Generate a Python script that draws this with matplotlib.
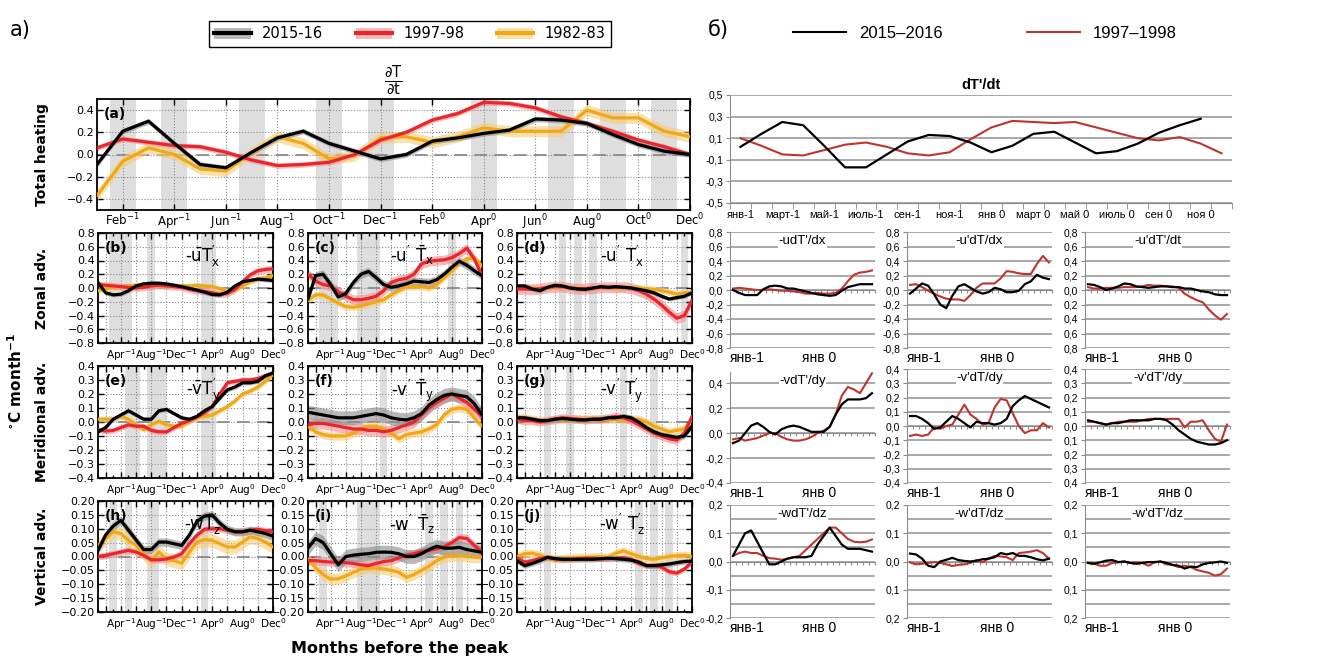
import numpy as np
import matplotlib.pyplot as plt
from matplotlib.lines import Line2D
from matplotlib.patches import Patch
from matplotlib.ticker import FuncFormatter
import matplotlib.transforms as mtransforms

# ---------------- data: left block, monthly anomalies (Jan-1 .. Dec0) ----------------
months = np.arange(24)

heat_1516 = [-0.09, 0.21, 0.30, 0.10, -0.09, -0.12, 0.02, 0.15, 0.21, 0.10, 0.03, -0.04,
             0.00, 0.12, 0.15, 0.19, 0.22, 0.32, 0.31, 0.28, 0.18, 0.09, 0.03, 0.00]
heat_9798 = [0.06, 0.14, 0.11, 0.08, 0.07, 0.02, -0.05, -0.10, -0.09, -0.07, 0.00, 0.13,
             0.20, 0.31, 0.37, 0.47, 0.46, 0.42, 0.34, 0.28, 0.21, 0.13, 0.07, 0.00]
heat_8283 = [-0.37, -0.06, 0.06, 0.00, -0.13, -0.15, 0.02, 0.16, 0.10, -0.04, -0.01, 0.15,
             0.16, 0.11, 0.16, 0.24, 0.21, 0.21, 0.21, 0.40, 0.33, 0.33, 0.21, 0.16]

b_1516 = [0.08, -0.07, -0.10, -0.09, -0.04, 0.03, 0.06, 0.07, 0.07, 0.06, 0.04, 0.02,
          -0.005, -0.03, -0.06, -0.095, -0.10, -0.06, 0.03, 0.09, 0.11, 0.13, 0.12, 0.11]
b_9798 = [0.05, 0.04, 0.03, 0.02, 0.01, 0.00, 0.01, 0.03, 0.04, 0.03, 0.02, 0.01,
          -0.02, -0.04, -0.05, -0.07, -0.09, -0.08, -0.02, 0.09, 0.19, 0.25, 0.27, 0.28]
b_8283 = [-0.04, -0.01, 0.01, 0.02, 0.03, 0.04, 0.05, 0.05, 0.04, 0.03, 0.03, 0.03,
          0.03, 0.04, 0.03, 0.02, -0.01, -0.05, -0.03, 0.03, 0.09, 0.13, 0.15, 0.18]

c_1516 = [-0.16, 0.18, 0.20, 0.05, -0.13, -0.08, 0.08, 0.20, 0.24, 0.15, 0.05, 0.01,
          0.03, 0.06, 0.10, 0.09, 0.08, 0.12, 0.20, 0.30, 0.39, 0.33, 0.25, 0.18]
c_9798 = [0.20, 0.10, 0.05, 0.03, -0.05, -0.12, -0.17, -0.17, -0.15, -0.12, -0.04, 0.08,
          0.12, 0.14, 0.20, 0.35, 0.39, 0.40, 0.41, 0.44, 0.50, 0.58, 0.42, 0.18]
c_8283 = [-0.18, -0.10, -0.10, -0.16, -0.22, -0.27, -0.28, -0.26, -0.23, -0.20, -0.17, -0.10,
          -0.04, 0.02, 0.02, 0.02, 0.00, 0.05, 0.15, 0.25, 0.36, 0.42, 0.44, 0.32]

d_1516 = [0.03, 0.03, -0.015, -0.04, 0.01, 0.04, 0.03, 0.00, -0.015, -0.02, 0.00, 0.02,
          0.01, 0.02, 0.01, 0.00, -0.02, -0.04, -0.07, -0.12, -0.16, -0.14, -0.12, -0.07]
d_9798 = [-0.015, -0.015, -0.02, -0.01, 0.01, 0.02, 0.02, 0.00, -0.01, -0.01, 0.00, 0.01,
          0.01, 0.01, 0.01, 0.00, -0.04, -0.09, -0.16, -0.25, -0.35, -0.44, -0.40, -0.18]
d_8283 = [0.02, 0.02, 0.00, -0.02, 0.00, 0.02, 0.02, 0.01, 0.00, -0.01, 0.00, 0.01,
          0.01, 0.00, 0.00, 0.00, 0.00, -0.01, -0.02, -0.04, -0.06, -0.09, -0.07, -0.06]

e_1516 = [-0.07, -0.04, 0.02, 0.05, 0.08, 0.05, 0.02, 0.02, 0.08, 0.09, 0.06, 0.03,
          0.02, 0.04, 0.08, 0.11, 0.17, 0.23, 0.25, 0.28, 0.28, 0.29, 0.33, 0.35]
e_9798 = [-0.055, -0.065, -0.06, -0.04, -0.02, -0.03, -0.03, -0.06, -0.07, -0.07, -0.04, -0.01,
          0.01, 0.035, 0.065, 0.11, 0.20, 0.28, 0.29, 0.30, 0.30, 0.31, 0.33, 0.35]
e_8283 = [0.02, 0.02, 0.02, 0.04, 0.02, -0.02, -0.055, -0.02, 0.005, -0.02, -0.03, -0.03,
          0.005, 0.03, 0.04, 0.05, 0.08, 0.11, 0.15, 0.20, 0.22, 0.25, 0.29, 0.34]

f_1516 = [0.07, 0.06, 0.05, 0.04, 0.03, 0.03, 0.03, 0.04, 0.05, 0.06, 0.05, 0.03,
          0.02, 0.015, 0.03, 0.06, 0.12, 0.16, 0.19, 0.20, 0.19, 0.18, 0.13, 0.05]
f_9798 = [-0.02, -0.01, -0.01, -0.02, -0.03, -0.04, -0.05, -0.05, -0.06, -0.06, -0.07, -0.06,
          -0.04, -0.02, 0.00, 0.05, 0.10, 0.14, 0.17, 0.20, 0.17, 0.14, 0.09, 0.04]
f_8283 = [-0.03, -0.07, -0.09, -0.10, -0.10, -0.10, -0.08, -0.05, -0.03, -0.03, -0.05, -0.08,
          -0.12, -0.09, -0.08, -0.07, -0.05, -0.02, 0.05, 0.09, 0.10, 0.09, 0.03, -0.03]

g_1516 = [0.03, 0.03, 0.02, 0.01, 0.01, 0.02, 0.025, 0.02, 0.015, 0.015, 0.02, 0.02,
          0.03, 0.03, 0.04, 0.03, 0.00, -0.04, -0.07, -0.09, -0.10, -0.11, -0.10, -0.03]
g_9798 = [0.02, 0.01, 0.01, 0.00, 0.01, 0.02, 0.03, 0.025, 0.02, 0.015, 0.02, 0.02,
          0.03, 0.04, 0.03, 0.01, -0.02, -0.05, -0.08, -0.10, -0.12, -0.13, -0.08, 0.04]
g_8283 = [0.03, 0.03, 0.02, 0.01, 0.01, 0.02, 0.02, 0.02, 0.02, 0.02, 0.02, 0.02,
          0.02, 0.02, 0.02, 0.02, 0.02, 0.00, -0.03, -0.05, -0.07, -0.06, -0.05, 0.02]

h_1516 = [0.022, 0.077, 0.11, 0.13, 0.095, 0.06, 0.025, 0.025, 0.052, 0.052, 0.046, 0.04,
          0.077, 0.126, 0.146, 0.15, 0.12, 0.098, 0.089, 0.089, 0.095, 0.089, 0.083, 0.073]
h_9798 = [0.0, 0.004, 0.01, 0.016, 0.022, 0.016, 0.004, -0.012, -0.012, -0.009, -0.002, 0.01,
          0.046, 0.077, 0.098, 0.10, 0.10, 0.095, 0.089, 0.089, 0.095, 0.098, 0.093, 0.089]
h_8283 = [0.04, 0.065, 0.089, 0.083, 0.058, 0.04, 0.01, -0.015, 0.016, -0.009, -0.015, -0.024,
          0.016, 0.052, 0.061, 0.058, 0.046, 0.034, 0.034, 0.052, 0.071, 0.065, 0.052, 0.034]

i_1516 = [0.03, 0.065, 0.05, 0.01, -0.03, 0.0, 0.005, 0.008, 0.01, 0.015, 0.016, 0.015,
          0.01, 0.0, 0.0, 0.01, 0.025, 0.037, 0.03, 0.03, 0.033, 0.025, 0.02, 0.015]
i_9798 = [-0.015, -0.015, -0.018, -0.02, -0.02, -0.022, -0.025, -0.03, -0.033, -0.025, -0.018, -0.015,
          -0.005, 0.005, 0.01, 0.018, 0.022, 0.028, 0.035, 0.05, 0.068, 0.065, 0.04, 0.015]
i_8283 = [-0.008, -0.04, -0.065, -0.082, -0.08, -0.07, -0.057, -0.045, -0.04, -0.042, -0.045, -0.05,
          -0.057, -0.075, -0.065, -0.05, -0.035, -0.015, -0.002, 0.003, 0.004, 0.0, -0.002, -0.002]

j_1516 = [-0.015, -0.033, -0.025, -0.015, -0.003, -0.008, -0.01, -0.01, -0.01, -0.01, -0.01, -0.008,
          -0.006, -0.008, -0.01, -0.013, -0.02, -0.033, -0.033, -0.03, -0.027, -0.022, -0.018, -0.017]
j_9798 = [-0.005, -0.02, -0.015, -0.008, -0.003, -0.008, -0.01, -0.01, -0.008, -0.006, -0.006, -0.008,
          -0.008, -0.006, -0.005, -0.01, -0.025, -0.033, -0.033, -0.038, -0.055, -0.06, -0.045, -0.02]
j_8283 = [0.0, 0.01, 0.012, 0.005, -0.005, -0.01, -0.008, -0.005, -0.003, -0.003, -0.002, 0.0,
          -0.003, 0.012, 0.02, 0.01, 0.0, -0.008, -0.01, -0.005, 0.0, 0.003, 0.005, 0.0]

# ensemble half-spread per panel (a..j)
spread_1516 = [0.025, 0.03, 0.06, 0.03, 0.015, 0.05, 0.02, 0.015, 0.025, 0.01]
spread_9798 = [0.025, 0.05, 0.07, 0.08, 0.02, 0.04, 0.03, 0.012, 0.015, 0.01]
spread_8283 = [0.05, 0.04, 0.05, 0.05, 0.02, 0.03, 0.03, 0.025, 0.02, 0.015]

# shaded month spans per panel
bands_a = [(0.5, 1.5), (2.5, 3.5), (5.5, 6.5), (8.5, 9.5), (10.5, 11.5),
           (14.5, 15.5), (17.5, 18.5), (19.5, 20.5), (21.5, 22.5)]
bands_b = [(1.5, 4.5), (6.5, 7.5), (13.5, 15.5)]
bands_c = [(1.5, 4.0), (6.5, 9.5), (18.5, 19.5)]
bands_d = [(5.5, 6.5), (7.5, 8.5), (9.5, 10.5), (21.5, 22.5)]
bands_e = [(3.5, 5.5), (6.5, 9.0), (13.5, 15.5)]
bands_f = [(9.5, 10.5)]
bands_g = [(3.5, 4.5), (6.5, 7.5), (13.5, 14.5), (17.5, 18.5)]
bands_h = [(1.5, 2.5), (3.5, 4.5), (6.5, 8.0), (13.5, 14.5)]
bands_i = [(1.5, 2.5), (6.5, 9.5), (15.5, 16.5), (17.5, 18.5), (19.5, 20.5)]
bands_j = [(3.5, 4.5), (15.5, 16.5), (17.5, 18.5), (19.5, 20.5)]

years_left = ['2015-16', '1997-98', '1982-83']
top_ticks = ['Feb$^{-1}$', 'Apr$^{-1}$', 'Jun$^{-1}$', 'Aug$^{-1}$', 'Oct$^{-1}$', 'Dec$^{-1}$',
             'Feb$^{0}$', 'Apr$^{0}$', 'Jun$^{0}$', 'Aug$^{0}$', 'Oct$^{0}$', 'Dec$^{0}$']
small_ticks = ['', 'Apr$^{-1}$', '', 'Aug$^{-1}$', '', 'Dec$^{-1}$',
               '', 'Apr$^{0}$', '', 'Aug$^{0}$', '', 'Dec$^{0}$']

# ---------------- data: right block (two events) ----------------
nan = np.nan
dtdt_2015 = [0.02, 0.14, 0.25, 0.22, 0.03, -0.17, -0.17, -0.05, 0.07, 0.13, 0.12, 0.06,
             -0.03, 0.03, 0.14, 0.16, 0.06, -0.04, -0.02, 0.05, 0.15, 0.22, 0.28, nan]
dtdt_1997 = [0.10, 0.03, -0.05, -0.06, -0.01, 0.04, 0.06, 0.02, -0.04, -0.06, -0.03, 0.09,
             0.20, 0.26, 0.25, 0.24, 0.25, 0.20, 0.15, 0.10, 0.08, 0.11, 0.05, -0.04]

udx_2015 = [0.00, -0.04, -0.07, -0.07, -0.07, 0.01, 0.05, 0.06, 0.05, 0.02, 0.02, 0.00,
            -0.02, -0.04, -0.06, -0.07, -0.08, -0.07, -0.01, 0.04, 0.06, 0.08, 0.08, 0.08]
udx_1997 = [0.02, 0.03, 0.02, 0.01, 0.00, 0.00, 0.01, 0.00, -0.01, -0.01, -0.02, -0.03,
            -0.05, -0.05, -0.04, -0.05, -0.05, -0.04, 0.02, 0.12, 0.21, 0.24, 0.25, 0.27]
upx_2015 = [-0.05, 0.02, 0.09, 0.06, -0.06, -0.20, -0.25, -0.08, 0.05, 0.08, 0.03, -0.02,
            -0.05, -0.03, 0.03, 0.01, -0.03, -0.03, -0.01, 0.08, 0.12, 0.21, 0.17, 0.15]
upx_1997 = [0.07, 0.08, 0.04, -0.01, -0.05, -0.09, -0.12, -0.13, -0.13, -0.15, -0.07, 0.03,
            0.09, 0.09, 0.09, 0.16, 0.26, 0.25, 0.23, 0.22, 0.22, 0.36, 0.47, 0.38]
uppx_2015 = [0.08, 0.07, 0.04, 0.00, 0.02, 0.05, 0.09, 0.08, 0.05, 0.04, 0.03, 0.04,
             0.05, 0.05, 0.04, 0.04, 0.02, 0.02, 0.00, -0.02, -0.03, -0.06, -0.07, -0.07]
uppx_1997 = [0.04, 0.02, 0.02, 0.03, 0.03, 0.03, 0.04, 0.04, 0.04, 0.05, 0.07, 0.06,
             0.06, 0.05, 0.05, 0.03, -0.05, -0.10, -0.14, -0.17, -0.27, -0.35, -0.41, -0.33]

vdy_2015 = [-0.08, -0.06, 0.00, 0.06, 0.08, 0.05, 0.01, -0.01, 0.03, 0.05, 0.06, 0.05,
            0.03, 0.01, 0.01, 0.01, 0.05, 0.15, 0.23, 0.27, 0.27, 0.27, 0.28, 0.32]
vdy_1997 = [-0.05, -0.04, -0.06, -0.05, -0.04, -0.02, 0.00, 0.00, -0.03, -0.05, -0.06, -0.06,
            -0.05, -0.03, 0.00, 0.02, 0.05, 0.15, 0.30, 0.37, 0.35, 0.32, 0.40, 0.48]
vpy_2015 = [0.07, 0.07, 0.05, 0.02, -0.02, -0.01, 0.03, 0.07, 0.05, 0.02, -0.01, 0.03,
            0.02, 0.02, 0.01, 0.02, 0.05, 0.14, 0.18, 0.21, 0.19, 0.17, 0.15, 0.13]
vpy_1997 = [-0.07, -0.06, -0.07, -0.06, -0.01, -0.02, 0.00, 0.01, 0.08, 0.15, 0.08, 0.05,
            0.01, 0.02, 0.13, 0.19, 0.18, 0.09, 0.00, -0.05, -0.03, -0.03, 0.02, -0.01]
vppy_2015 = [0.04, 0.03, 0.02, 0.01, 0.02, 0.02, 0.03, 0.04, 0.04, 0.04, 0.04, 0.05,
             0.05, 0.04, 0.01, -0.03, -0.06, -0.09, -0.11, -0.12, -0.13, -0.13, -0.12, -0.10]
vppy_1997 = [0.03, 0.03, 0.02, 0.01, 0.02, 0.03, 0.03, 0.03, 0.03, 0.04, 0.05, 0.05,
             0.05, 0.05, 0.05, 0.05, -0.01, 0.03, 0.03, 0.04, -0.03, -0.09, -0.11, 0.01]

wdz_2015 = [0.02, 0.06, 0.10, 0.11, 0.07, 0.03, -0.01, -0.01, 0.00, 0.01, 0.015, 0.015,
            0.015, 0.02, 0.06, 0.09, 0.12, 0.09, 0.06, 0.045, 0.045, 0.045, 0.04, 0.035]
wdz_1997 = [0.02, 0.03, 0.035, 0.03, 0.03, 0.02, 0.012, 0.01, 0.006, 0.01, 0.015, 0.02,
            0.04, 0.06, 0.08, 0.10, 0.12, 0.12, 0.10, 0.08, 0.07, 0.068, 0.07, 0.078]
wpz_2015 = [0.028, 0.025, 0.01, -0.015, -0.02, 0.0, 0.006, 0.013, 0.005, 0.002, 0.0, 0.003,
            0.008, 0.01, 0.015, 0.03, 0.025, 0.03, 0.02, 0.02, 0.015, 0.008, 0.004, 0.01]
wpz_1997 = [-0.003, -0.01, -0.008, -0.005, -0.002, -0.005, -0.01, -0.016, -0.012, -0.01, -0.005, 0.005,
            -0.003, 0.01, 0.02, 0.018, 0.015, 0.005, 0.03, 0.032, 0.035, 0.04, 0.03, 0.01]
wppz_2015 = [-0.005, -0.008, -0.003, 0.003, 0.005, -0.002, 0.0, -0.005, -0.008, -0.005, -0.002, -0.002,
             0.0, -0.005, -0.012, -0.015, -0.025, -0.018, -0.02, -0.01, -0.005, -0.003, 0.0, -0.005]
wppz_1997 = [-0.005, -0.008, -0.015, -0.015, -0.005, -0.003, 0.0, -0.005, -0.003, -0.005, -0.015, -0.003,
             0.0, -0.01, -0.012, -0.02, -0.015, -0.02, -0.03, -0.035, -0.04, -0.05, -0.045, -0.025]

years_right = ['2015\u20132016', '1997\u20131998']
month_ru = ['янв-1', 'март-1', 'май-1', 'июль-1', 'сен-1', 'ноя-1',
            'янв 0', 'март 0', 'май 0', 'июль 0', 'сен 0', 'ноя 0']

# ---------------- styling ----------------
LINE_COLORS = ['black', '#e8262d', '#f0a818']
SHADE_COLORS = ['#8a8a8a', '#f28b8b', '#f7cc74']
BAND = '#dedede'
RED_R = '#c0342e'
GRID_R = '#a8a8a8'
RFONT = ['Liberation Sans Narrow', 'Liberation Sans', 'DejaVu Sans']

plt.rcParams['font.family'] = 'DejaVu Sans'
plt.rcParams['mathtext.default'] = 'regular'

W, H = 1339, 662
fig = plt.figure(figsize=(W / 100, H / 100), dpi=100)


def px_axes(x0, y0, x1, y1):
    return fig.add_axes([x0 / W, 1 - y1 / H, (x1 - x0) / W, (y1 - y0) / H])


def left_fmt(dec):
    def f(v, pos):
        s = f'{v:.{dec}f}'
        if float(s) == 0:
            s = f'{0:.{dec}f}'
        return s.replace('-', '\u2212')
    return FuncFormatter(f)


def draw_left(ax, series, k, bands, ylim, tmax, step, dec):
    for b0, b1 in bands:
        ax.axvspan(b0, b1, color=BAND, lw=0, zorder=0)
    ax.axhline(0, color='#8c8c8c', lw=1.3, dashes=(7, 4), zorder=1)
    spreads = [spread_1516[k], spread_9798[k], spread_8283[k]]
    for vals, sp, sc in list(zip(series, spreads, SHADE_COLORS))[::-1]:
        v = np.asarray(vals)
        ax.fill_between(months, v - sp, v + sp, color=sc, alpha=0.6, lw=0, zorder=2)
    for vals, lc in list(zip(series, LINE_COLORS))[::-1]:
        ax.plot(months, vals, color=lc, lw=2.3, zorder=3, solid_capstyle='round')
    ax.set_xlim(0, 23)
    ax.set_ylim(-ylim, ylim)
    ax.set_yticks(np.arange(-tmax, tmax + step / 2, step))
    ax.yaxis.set_major_formatter(left_fmt(dec))
    ax.set_xticks(months, minor=True)
    ax.grid(True, which='major', ls=':', lw=0.8, color='#8a8a8a')
    ax.tick_params(which='both', direction='in', top=True, right=True,
                   labelsize=8, pad=2, width=1)
    ax.tick_params(which='major', length=4)
    ax.tick_params(which='minor', length=2.5)
    for s in ax.spines.values():
        s.set_linewidth(1.3)


# ---------------- left block ----------------
ax_a = px_axes(97, 99, 690, 210)
draw_left(ax_a, [heat_1516, heat_9798, heat_8283], 0, bands_a, 0.5, 0.4, 0.2, 1)
ax_a.set_xticks(np.arange(1, 24, 2), top_ticks)
ax_a.set_xticks([], minor=True)
ax_a.tick_params(axis='x', labelsize=8.5, pad=1.5)
ax_a.text(0.012, 0.93, '(a)', transform=ax_a.transAxes, fontsize=10, fontweight='bold', va='top')
ax_a.text(0.5, 1.02, r'$\frac{\partial T}{\partial t}$', transform=ax_a.transAxes,
          fontsize=15, ha='center', va='bottom')

small = [
    ('(b)', r'-$\bar{u}T^{\prime}_{x}$', [b_1516, b_9798, b_8283], bands_b),
    ('(c)', r'-u$^{\prime}$ $\bar{T}_{x}$', [c_1516, c_9798, c_8283], bands_c),
    ('(d)', r'-u$^{\prime}$ T$^{\prime}_{x}$', [d_1516, d_9798, d_8283], bands_d),
    ('(e)', r'-$\bar{v}T^{\prime}_{y}$', [e_1516, e_9798, e_8283], bands_e),
    ('(f)', r'-v$^{\prime}$ $\bar{T}_{y}$', [f_1516, f_9798, f_8283], bands_f),
    ('(g)', r'-v$^{\prime}$ T$^{\prime}_{y}$', [g_1516, g_9798, g_8283], bands_g),
    ('(h)', r'-$\bar{w}T^{\prime}_{z}$', [h_1516, h_9798, h_8283], bands_h),
    ('(i)', r'-w$^{\prime}$ $\bar{T}_{z}$', [i_1516, i_9798, i_8283], bands_i),
    ('(j)', r'-w$^{\prime}$ T$^{\prime}_{z}$', [j_1516, j_9798, j_8283], bands_j),
]
left_cols = [(98, 273), (308, 482), (517, 692)]
left_rows = [(233, 343), (366, 478), (501, 612)]
row_scale = [(0.8, 0.8, 0.2, 1), (0.4, 0.4, 0.1, 1), (0.2, 0.2, 0.05, 2)]

for n, (tag, name, series, bands) in enumerate(small):
    r, c = divmod(n, 3)
    x0, x1 = left_cols[c]
    y0, y1 = left_rows[r]
    ax = px_axes(x0, y0, x1, y1)
    ylim, tmax, step, dec = row_scale[r]
    draw_left(ax, series, n + 1, bands, ylim, tmax, step, dec)
    ax.set_xticks(np.arange(1, 24, 2), small_ticks)
    ax.tick_params(axis='x', labelsize=7.6, pad=3)
    ax.text(0.04, 0.93, tag, transform=ax.transAxes, fontsize=10, fontweight='bold', va='top')
    ax.text(0.6, 0.9, name, transform=ax.transAxes, fontsize=12, ha='center', va='top')

fig.text(42 / W, 1 - 155 / H, 'Total heating', rotation=90, ha='center', va='center',
         fontsize=10, fontweight='bold')
for label, yc in [('Zonal adv.', 288), ('Meridional adv.', 422), ('Vertical adv.', 556)]:
    fig.text(42 / W, 1 - yc / H, label, rotation=90, ha='center', va='center',
             fontsize=10, fontweight='bold')
fig.text(16 / W, 1 - 382 / H, r'$^{\circ}$C month$^{\mathbf{-1}}$', rotation=90,
         ha='center', va='center', fontsize=11, fontweight='bold')
fig.text(400 / W, 1 - 648 / H, 'Months before the peak', ha='center', va='center',
         fontsize=11.5, fontweight='bold')
fig.text(10 / W, 1 - 30 / H, 'а)', fontsize=15, va='center')

left_handles = [(Patch(facecolor=sc, alpha=0.6, lw=0), Line2D([], [], color=lc, lw=3))
                for lc, sc in zip(LINE_COLORS, SHADE_COLORS)]
fig.legend(left_handles, years_left, loc='center', bbox_to_anchor=(410 / W, 1 - 34 / H),
           ncol=3, fontsize=10.5, handlelength=2.5, columnspacing=2.2, fancybox=False,
           edgecolor='black', framealpha=1, borderpad=0.35)

# ---------------- right block ----------------
cats = np.arange(24)


def right_fmt(v, dec, minus):
    s = f'{abs(v):.{dec}f}'.replace('.', ',')
    if v < -1e-9 and minus:
        s = '-' + s
    return s


def draw_right(ax, black, red, ylim, grid, ticks, dec, minus):
    for g in grid:
        ax.axhline(g, color=GRID_R, lw=1.4, zorder=0)
    ax.plot(cats, red, color=RED_R, lw=1.5, zorder=3)
    ax.plot(cats, black, color='black', lw=1.6, zorder=4)
    ax.set_xlim(-0.5, 23.5)
    ax.set_ylim(ylim)
    ax.set_yticks(ticks, [right_fmt(t, dec, minus) for t in ticks], fontfamily=RFONT)
    ax.tick_params(axis='y', length=3, color='#8c8c8c', labelsize=7.5, pad=2)
    for s in ['top', 'right']:
        ax.spines[s].set_visible(False)
    ax.spines['left'].set_color('#8c8c8c')
    ax.spines['bottom'].set_color('#8c8c8c')


# top panel
ax_t = px_axes(730, 95, 1232, 203)
draw_right(ax_t, dtdt_2015, dtdt_1997, (-0.5, 0.5), np.arange(-0.5, 0.51, 0.2),
           np.arange(-0.5, 0.51, 0.2), 1, True)
ax_t.set_xticks(cats[::2], month_ru, fontfamily=RFONT)
ax_t.set_xticks(np.arange(-0.5, 24), minor=True)
ax_t.tick_params(axis='x', which='major', length=0, labelsize=8, pad=5)
ax_t.tick_params(axis='x', which='minor', length=4, color='#8c8c8c')
ax_t.text(0.5, 1.03, "dT'/dt", transform=ax_t.transAxes, ha='center', va='bottom',
          fontsize=10.5, fontweight='bold', family=RFONT)

right_panels = [
    ("-udT'/dx", udx_2015, udx_1997, 0, 0, True),
    ("-u'dT/dx", upx_2015, upx_1997, 0, 1, True),
    ("-u'dT'/dt", uppx_2015, uppx_1997, 0, 2, False),
    ("-vdT'/dy", vdy_2015, vdy_1997, 1, 0, True),
    ("-v'dT/dy", vpy_2015, vpy_1997, 1, 1, True),
    ("-v'dT'/dy", vppy_2015, vppy_1997, 1, 2, False),
    ("-wdT'/dz", wdz_2015, wdz_1997, 2, 0, True),
    ("-w'dT/dz", wpz_2015, wpz_1997, 2, 1, False),
    ("-w'dT'/dz", wppz_2015, wppz_1997, 2, 2, False),
]
right_cols = [(730, 875), (907, 1052), (1085, 1230)]
right_rows = [(232, 348), (369, 483), (505, 618)]

for title, black, red, r, c, minus in right_panels:
    x0, x1 = right_cols[c]
    y0, y1 = right_rows[r]
    if r == 0:
        ylim, grid, ticks = (-0.8, 0.8), np.arange(-0.8, 0.81, 0.2), np.arange(-0.8, 0.81, 0.2)
    elif r == 1 and c == 0:
        y0 = 372
        ylim, grid, ticks = (-0.4, 0.49), np.arange(-0.4, 0.41, 0.2), np.arange(-0.4, 0.41, 0.2)
    elif r == 1:
        ylim, grid, ticks = (-0.4, 0.4), np.arange(-0.4, 0.41, 0.1), np.arange(-0.4, 0.41, 0.1)
    else:
        ylim, grid, ticks = (-0.2, 0.2), np.arange(-0.2, 0.201, 0.05), np.arange(-0.2, 0.21, 0.1)
    ax = px_axes(x0, y0, x1, y1)
    draw_right(ax, black, red, ylim, grid, ticks, 1, minus)
    ax.spines['bottom'].set_position(('data', 0))
    ax.set_xticks(np.arange(-0.5, 24))
    ax.tick_params(axis='x', length=2.5, color='#8c8c8c', labelbottom=False)
    trans = mtransforms.blended_transform_factory(ax.transData, ax.transAxes)
    for m, lab in [(0, month_ru[0]), (12, month_ru[6])]:
        ax.text(m - 0.5, -0.03, lab, transform=trans, ha='left', va='top',
                fontsize=10, family=RFONT)
    ax.text(0.5, 0.97, title, transform=ax.transAxes, ha='center', va='top',
            fontsize=9.5, family=RFONT, zorder=5,
            bbox=dict(facecolor='white', edgecolor='none', pad=0.5))

fig.text(708 / W, 1 - 30 / H, 'б)', fontsize=15, va='center')
right_handles = [Line2D([], [], color='black', lw=1.5), Line2D([], [], color=RED_R, lw=1.5)]
fig.legend(right_handles, years_right, loc='center', bbox_to_anchor=(985 / W, 1 - 33 / H),
           ncol=2, frameon=False, handlelength=3.2, columnspacing=5,
           prop={'family': RFONT, 'size': 12})

fig.savefig('out.png', dpi=100, facecolor='white')
